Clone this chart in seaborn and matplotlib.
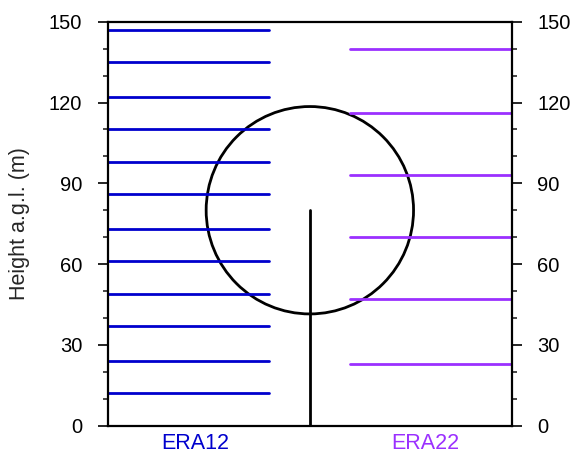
import numpy as np
import pandas as pd
import matplotlib
matplotlib.use("Agg")
import matplotlib.pyplot as plt
from matplotlib.patches import Ellipse
from matplotlib.ticker import MultipleLocator
import seaborn as sns

# ---- data ----
era12_levels = [12, 24, 37, 49, 61, 73, 86, 98, 110, 122, 135, 147]
era22_levels = [23, 47, 70, 93, 116, 140]
series_names = ["ERA12", "ERA22"]
series_colors = ["#0000CD", "#9B30FF"]
hub_height = 80
rotor_radius = 38.5
y_ticks = [0, 30, 60, 90, 120, 150]

# x extents of each group's level lines (axes fraction 0..1)
group_x = {"ERA12": (0.0, 0.4), "ERA22": (0.6, 1.0)}
label_x = [0.215, 0.785]
tower_x = 0.5

rows = []
for name, levels in zip(series_names, [era12_levels, era22_levels]):
    x0, x1 = group_x[name]
    for i, h in enumerate(levels):
        rows.append(dict(x=x0, y=h, unit=f"{name}_{i}", series=name))
        rows.append(dict(x=x1, y=h, unit=f"{name}_{i}", series=name))
df = pd.DataFrame(rows)

tower = pd.DataFrame(dict(x=[tower_x, tower_x], y=[0, hub_height]))

sns.set_theme(style="ticks")
plt.rcParams["font.family"] = ["Liberation Sans", "DejaVu Sans"]

fig = plt.figure(figsize=(5.78, 4.55), dpi=100)
ax = fig.add_axes([108/578, 1-425.7/455, (511.7-108)/578, (425.7-21.7)/455])

sns.lineplot(data=df, x="x", y="y", hue="series", units="unit", estimator=None,
             palette=dict(zip(series_names, series_colors)), linewidth=2.0,
             legend=False, ax=ax, sort=False)
sns.lineplot(data=tower, x="x", y="y", color="black", linewidth=2.0, ax=ax,
             estimator=None, sort=False)

ax.set_xlim(0, 1)
ax.set_ylim(0, 150)

# rotor disk: round in pixel space -> ellipse in data space
bbox = ax.get_position()
ax_w_px = bbox.width * 578
ax_h_px = bbox.height * 455
r_px = rotor_radius * ax_h_px / 150
ell = Ellipse((tower_x, hub_height), width=2 * r_px / ax_w_px, height=2 * rotor_radius,
              fill=False, edgecolor="black", linewidth=2.0)
ax.add_patch(ell)

for s in ax.spines.values():
    s.set_linewidth(1.6)
    s.set_color("black")

ax.set_yticks(y_ticks)
ax.yaxis.set_minor_locator(MultipleLocator(10))
ax.yaxis.set_ticks_position("both")
ax.tick_params(axis="y", which="major", direction="out", length=7.5, width=1.2,
               labelsize=14.5, pad=11, labelright=True, labelleft=True, colors="black")
ax.tick_params(axis="y", which="minor", direction="out", length=3.8, width=1.2,
               left=True, right=True)

ax.set_xticks(label_x)
ax.set_xticklabels(series_names)
ax.tick_params(axis="x", length=0, labelsize=15.5, pad=5)
for lbl, c in zip(ax.get_xticklabels(), series_colors):
    lbl.set_color(c)

ax.set_xlabel("")
ax.set_ylabel("Height a.g.l. (m)", fontsize=15.5, va="center")
ax.yaxis.set_label_coords(-0.218, 0.5)

fig.savefig("out.png", dpi=100)
